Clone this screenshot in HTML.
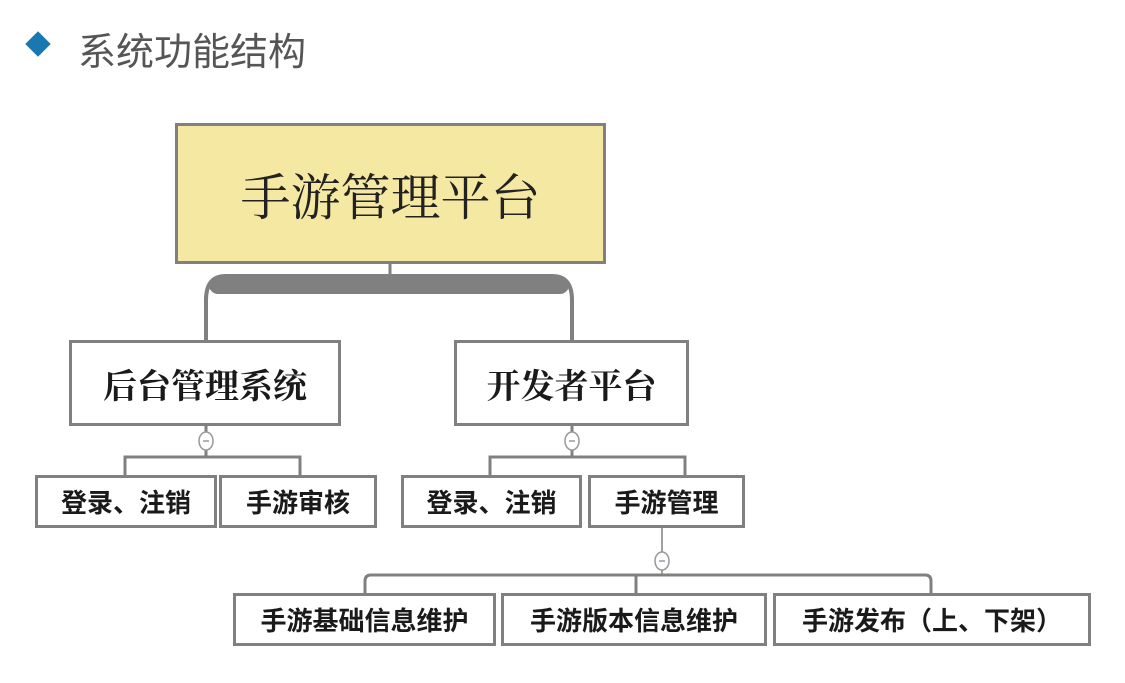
<!DOCTYPE html>
<html><head><meta charset="utf-8"><style>
body{margin:0;width:1125px;height:683px;background:#fff;position:relative;overflow:hidden;font-family:"Liberation Sans","Noto Sans CJK SC",sans-serif}
.b{position:absolute;box-sizing:border-box;border:3px solid #808080;background:#fff;display:flex;align-items:center;justify-content:center;color:#1a1a1a;white-space:nowrap}
.s{font-size:26px;font-weight:bold}
</style></head><body>
<div style="position:absolute;left:29px;top:35px;width:18px;height:18px;background:#1a78b0;transform:rotate(45deg)"></div>
<div style="position:absolute;left:78px;top:21px;font-size:38px;color:#555;">系统功能结构</div>
<svg width="1125" height="683" style="position:absolute;left:0;top:0">
<g fill="none" stroke="#808080">
<line x1="390" y1="263" x2="390" y2="276" stroke-width="3"/>
<path d="M206 340 V300 Q206 276 226 276 H552 Q572 276 572 300 V340" stroke-width="4"/>
<path d="M218 285 H560" stroke-width="18" stroke-linecap="round"/>
<g stroke-width="3">
<path d="M206 426 V457 M125 475 V457 H300 V475"/>
<path d="M572 426 V457 M490 475 V457 H685 V475"/>
<path d="M365 593 V581 Q365 575 371 575 H925 Q931 575 931 581 V593 M636 593 V575"/>
</g>
<line x1="662" y1="528" x2="662" y2="575" stroke-width="1.5"/>
</g>
<g fill="#fff" stroke="#999" stroke-width="1.5">
<ellipse cx="206" cy="441" rx="7" ry="9"/><ellipse cx="572" cy="441" rx="7" ry="9"/><ellipse cx="662" cy="561" rx="7" ry="9"/>
</g>
<g stroke="#99a" stroke-width="1.5"><line x1="203" y1="441" x2="209" y2="441"/><line x1="569" y1="441" x2="575" y2="441"/><line x1="659" y1="561" x2="665" y2="561"/></g>
</svg>
<div class="b" style="left:175px;top:123px;width:431px;height:141px;background:#f4e8a2;font-size:50px;font-family:'Liberation Serif','Noto Serif CJK SC',serif;color:#222">手游管理平台</div>
<div class="b" style="left:69px;top:340px;width:272px;height:86px;font-size:34px;font-family:'Liberation Serif','Noto Serif CJK SC',serif;font-weight:bold">后台管理系统</div>
<div class="b" style="left:454px;top:340px;width:235px;height:86px;font-size:34px;font-family:'Liberation Serif','Noto Serif CJK SC',serif;font-weight:bold">开发者平台</div>
<div class="b s" style="left:35px;top:475px;width:182px;height:53px">登录、注销</div>
<div class="b s" style="left:219px;top:475px;width:158px;height:53px">手游审核</div>
<div class="b s" style="left:401px;top:475px;width:181px;height:53px">登录、注销</div>
<div class="b s" style="left:588px;top:475px;width:157px;height:53px">手游管理</div>
<div class="b s" style="left:233px;top:593px;width:263px;height:53px">手游基础信息维护</div>
<div class="b s" style="left:501px;top:593px;width:266px;height:53px">手游版本信息维护</div>
<div class="b s" style="left:773px;top:593px;width:318px;height:53px">手游发布（上、下架）</div>
</body></html>
